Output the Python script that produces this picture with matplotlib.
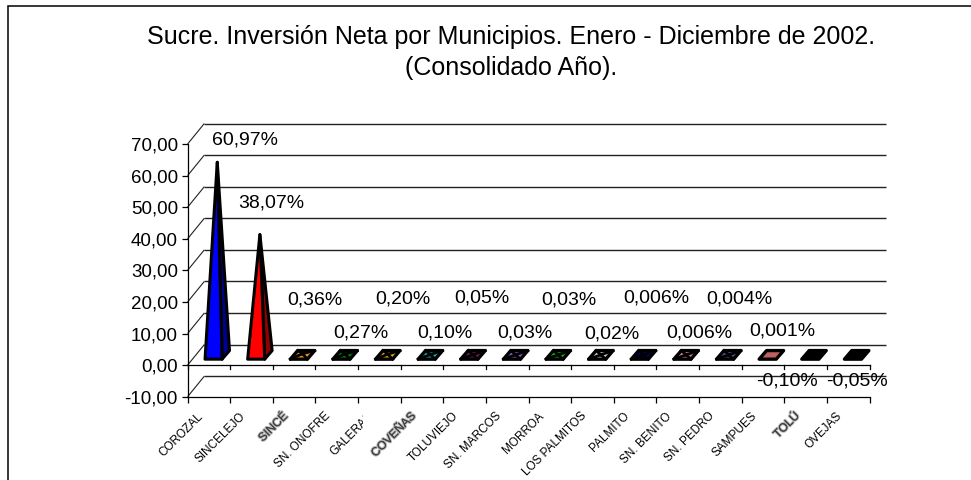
import matplotlib
matplotlib.use("Agg")
import matplotlib.pyplot as plt
import matplotlib.patheffects as pe
from matplotlib.patches import Polygon
from matplotlib.transforms import Bbox

plt.rcParams["font.family"] = ["Liberation Sans", "DejaVu Sans"]

municipios = ["COROZAL", "SINCELEJO", "SINCÉ", "SN. ONOFRE", "GALERAS", "COVEÑAS", "TOLUVIEJO", "SN. MARCOS",
              "MORROA", "LOS PALMITOS", "PALMITO", "SN. BENITO", "SN. PEDRO", "SAMPUES", "TOLÚ", "OVEJAS"]
valores = [60.97, 38.07, 0.36, 0.27, 0.20, 0.10, 0.05, 0.03, 0.03, 0.02, 0.006, 0.006, 0.004, 0.001, -0.10, -0.05]
etiquetas = ["60,97%", "38,07%", "0,36%", "0,27%", "0,20%", "0,10%", "0,05%", "0,03%", "0,03%", "0,02%",
             "0,006%", "0,006%", "0,004%", "0,001%", "-0,10%", "-0,05%"]
colores = ["#0000FF", "#FF0000", "#E09A10", "#008000", "#E0B010", "#10B0C0", "#802050", "#9060C0",
           "#00C000", "#C8C8C8", "#000080", "#D080A0", "#605090", "#C06060", "#000000", "#000000"]
oscuros = ["#000090", "#900000", "#805808", "#004000", "#806008", "#086070", "#401028", "#503070",
           "#006000", "#707070", "#000040", "#704050", "#302848", "#703030", "#000000", "#000000"]
gris = [False, False, True, False, False, True, False, False, False, False, False, False, False, False, True, False]
y_ticks = [-10, 0, 10, 20, 30, 40, 50, 60, 70]
y_labels = ["-10,00", "0,00", "10,00", "20,00", "30,00", "40,00", "50,00", "60,00", "70,00"]

# where the hand-placed % labels sit, in pixels
label_px = [245, 271, 315, 361, 403, 445, 482, 525, 569, 612, 656, 699, 739, 782, 787, 857]
label_py = [140, 203, 300, 333, 299, 333, 298, 333, 300, 334, 298, 333, 299, 331, 381, 381]

# 3d look: depth of the chart in data units
dx = 16.7 / 42.6
dy = 20.5 / 3.16
half_w = 0.2
base_x = 3.7 / 42.6
base_y = 4.3 / 3.16


def main():
    fig = plt.figure(figsize=(9.71, 4.8), dpi=100)
    W, H = 971, 480
    left, right, top, bottom = 187.6, 869.6, 144.0, 396.7
    ax = fig.add_axes([left / W, 1 - bottom / H, (right - left) / W, (bottom - top) / H])
    ax.set_xlim(0, 16)
    ax.set_ylim(-10, 70)
    ax.patch.set_visible(False)
    for s in ["top", "right"]:
        ax.spines[s].set_visible(False)
    for s in ["left", "bottom"]:
        ax.spines[s].set_linewidth(0.9)

    ax.set_yticks(y_ticks)
    ax.set_yticklabels(y_labels, fontsize=13.5)
    ax.set_xticks(range(17))
    ax.set_xticklabels([])
    ax.tick_params(length=4, width=0.9)
    ax.tick_params(axis="y", pad=3)

    # back wall + slanted floor lines
    for v in y_ticks:
        ax.plot([0, dx], [v, v + dy], color="#222222", lw=0.8, clip_on=False, solid_capstyle="butt")
        ax.plot([dx, 16 + dx], [v + dy, v + dy], color="#222222", lw=1.0, clip_on=False, solid_capstyle="butt")

    # zero line with its ticks
    ax.plot([0, 16], [0, 0], color="black", lw=0.9, clip_on=False)
    for i in range(17):
        ax.plot([i, i], [0, -1.25], color="black", lw=0.9, clip_on=False)

    for i, v in enumerate(valores):
        cx = i + 0.5 + dx / 2
        cy = dy / 2
        fl = (cx - half_w - base_x, cy - base_y)
        fr = (cx + half_w - base_x, cy - base_y)
        br = (cx + half_w + base_x, cy + base_y)
        bl = (cx - half_w + base_x, cy + base_y)
        apex = (cx, cy + v)
        if abs(v) < 1:
            # flat marks, the edges nearly cover the fill
            ax.add_patch(Polygon([fl, fr, br, bl], closed=True, fc=colores[i], ec="black", lw=2.4,
                                 joinstyle="round", clip_on=False, zorder=3))
            if i < 13:
                for c in [fl, fr, br, bl]:
                    ax.plot([c[0], apex[0]], [c[1], apex[1]], color="black", lw=2.0, clip_on=False, zorder=3)
        else:
            ax.add_patch(Polygon([fr, br, apex], closed=True, fc=oscuros[i], ec="black", lw=2.2,
                                 joinstyle="round", clip_on=False, zorder=3))
            ax.add_patch(Polygon([fl, fr, apex], closed=True, fc=colores[i], ec="black", lw=2.2,
                                 joinstyle="round", clip_on=False, zorder=4))
        fig.text(label_px[i] / W, 1 - label_py[i] / H, etiquetas[i], fontsize=14, ha="center", va="center", zorder=5)

    for i, nombre in enumerate(municipios):
        t = ax.text(i + 0.21, -14.3, nombre, fontsize=8.5, rotation=45, ha="right", va="top",
                    rotation_mode="anchor", clip_on=False)
        if gris[i]:
            t.set_color("#404040")
            t.set_path_effects([pe.withStroke(linewidth=1.6, foreground="#b8b8b8"), pe.Normal()])
        if nombre == "GALERAS":
            # the last letter is cut off in the original
            t.set_clip_on(True)
            t.set_clip_box(Bbox([[0, 0], [363, H]]))

    fig.text(511 / W, 1 - 37 / H, "Sucre. Inversión Neta por Municipios. Enero - Diciembre de 2002.",
             fontsize=18, ha="center", va="center")
    fig.text(511 / W, 1 - 68 / H, "(Consolidado Año).", fontsize=18, ha="center", va="center")

    # chart frame, runs off the right and bottom of the picture
    fig.add_artist(plt.Rectangle((8 / W, -0.1), 1.1, 1.1 - 5.5 / H, transform=fig.transFigure,
                                 fill=False, ec="black", lw=1.1))

    plt.savefig("out.png", dpi=100)


main()
